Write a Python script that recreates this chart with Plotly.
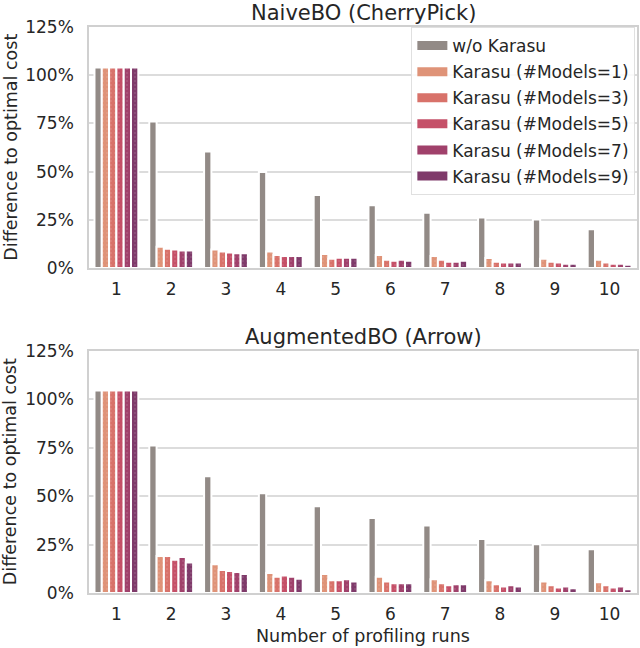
import plotly.graph_objects as go
from plotly.subplots import make_subplots

runs = ['1', '2', '3', '4', '5', '6', '7', '8', '9', '10']

series_names = ['w/o Karasu', 'Karasu (#Models=1)', 'Karasu (#Models=3)',
                'Karasu (#Models=5)', 'Karasu (#Models=7)', 'Karasu (#Models=9)']
colors = ['#928a86', '#df9378', '#d8726a', '#c55068', '#a0416b', '#7f3a6a']

# NaiveBO (CherryPick), difference to optimal cost in %
naive_wo = [104, 76, 60.4, 49.8, 37.9, 32.5, 28.6, 26.2, 25.1, 20.1]
naive_k1 = [104, 11.0, 9.6, 8.6, 7.2, 6.7, 6.2, 5.2, 4.8, 4.3]
naive_k3 = [104, 10.0, 8.6, 6.7, 4.8, 4.3, 4.3, 3.3, 3.3, 2.8]
naive_k5 = [104, 9.6, 8.1, 6.2, 5.3, 3.8, 3.3, 2.8, 2.8, 2.2]
naive_k7 = [104, 9.1, 7.6, 6.2, 5.3, 4.3, 3.3, 2.8, 2.2, 2.2]
naive_k9 = [104, 9.1, 7.6, 6.2, 5.3, 3.8, 3.8, 2.8, 2.2, 1.7]

# AugmentedBO (Arrow)
aug_wo = [104.6, 76.2, 60.3, 51.5, 44.8, 38.8, 34.8, 27.9, 25.2, 22.6]
aug_k1 = [104.6, 19.1, 14.8, 10.3, 9.8, 8.4, 7.1, 6.6, 6.0, 5.5]
aug_k3 = [104.6, 19.1, 11.9, 8.4, 6.6, 6.0, 5.0, 4.5, 4.0, 4.0]
aug_k5 = [104.6, 17.2, 11.4, 9.0, 6.6, 5.0, 4.0, 3.4, 2.9, 2.9]
aug_k7 = [104.6, 18.6, 10.9, 8.4, 7.1, 5.0, 4.5, 4.0, 3.4, 3.4]
aug_k9 = [104.6, 15.7, 9.8, 7.4, 6.0, 5.0, 4.5, 3.4, 2.4, 1.9]

y_ticks = [0, 25, 50, 75, 100, 125]
y_tick_labels = ['0%', '25%', '50%', '75%', '100%', '125%']

panels = [
    ('NaiveBO (CherryPick)', [naive_wo, naive_k1, naive_k3, naive_k5, naive_k7, naive_k9]),
    ('AugmentedBO (Arrow)', [aug_wo, aug_k1, aug_k3, aug_k5, aug_k7, aug_k9]),
]

FONT = 'DejaVu Sans'
TEXT = '#262626'
TOP_DOMAIN = [0.5742, 1]
BOTTOM_DOMAIN = [0, 0.4276]

fig = make_subplots(rows=2, cols=1)

for row, (title, values) in enumerate(panels, start=1):
    for i, vals in enumerate(values):
        pattern = dict(shape='') if i == 0 else dict(
            shape='.', fillmode='overlay', fgcolor='#ffffff', fgopacity=0.12, size=4, solidity=0.2)
        fig.add_trace(go.Bar(
            x=runs, y=vals,
            name=series_names[i],
            marker=dict(color=colors[i], line=dict(color='white', width=2), pattern=pattern),
            showlegend=False,
            hovertemplate='%{y:.1f}%<extra>' + series_names[i] + '</extra>',
        ), row=row, col=1)

# legend entries with wide swatches
for i, name in enumerate(series_names):
    fig.add_trace(go.Scatter(
        x=[None], y=[None], mode='lines', name=name,
        line=dict(color=colors[i], width=9),
        legendgroup=name, showlegend=True,
    ), row=1, col=1)

axis_common = dict(
    showline=True, mirror=True, linecolor='#d0d0d0', linewidth=1.5,
    ticks='', ticklen=0, automargin=False,
    tickfont=dict(family=FONT, size=17, color=TEXT),
)
x_common = dict(range=[-0.5, 9.5], ticklabelstandoff=5, **axis_common)
y_common = dict(range=[0, 125], tickvals=y_ticks, ticktext=y_tick_labels,
                showgrid=True, gridcolor='#dcdcdc', gridwidth=1.5,
                ticklabelstandoff=10, **axis_common)

title_font = dict(family=FONT, size=21, color=TEXT)
label_font = dict(family=FONT, size=17.5, color=TEXT)
y_title_x = -0.1439

fig.update_layout(
    width=640, height=648,
    template='simple_white',
    barmode='group', bargap=0.2, bargroupgap=0,
    paper_bgcolor='white', plot_bgcolor='white',
    margin=dict(l=89, r=3, t=27, b=55),
    font=dict(family=FONT, size=17, color=TEXT),
    xaxis=dict(domain=[0, 1], anchor='y', **x_common),
    yaxis=dict(domain=TOP_DOMAIN, anchor='x', **y_common),
    xaxis2=dict(domain=[0, 1], anchor='y2', **x_common),
    yaxis2=dict(domain=BOTTOM_DOMAIN, anchor='x2', **y_common),
    legend=dict(
        x=0.997, y=1.0, xanchor='right', yanchor='top',
        bgcolor='rgba(255,255,255,0.85)', bordercolor='#e0e0e0', borderwidth=1,
        font=dict(family=FONT, size=17, color=TEXT),
        tracegroupgap=1, itemwidth=30,
    ),
    annotations=[
        dict(text=panels[0][0], x=0.5, y=TOP_DOMAIN[1], xref='paper', yref='paper',
             xanchor='center', yanchor='bottom', yshift=0, showarrow=False, font=title_font),
        dict(text=panels[1][0], x=0.5, y=BOTTOM_DOMAIN[1], xref='paper', yref='paper',
             xanchor='center', yanchor='bottom', yshift=0, showarrow=False, font=title_font),
        dict(text='Difference to optimal cost', x=y_title_x, y=sum(TOP_DOMAIN) / 2,
             xref='paper', yref='paper', textangle=-90, xanchor='center', yanchor='middle',
             showarrow=False, font=label_font),
        dict(text='Difference to optimal cost', x=y_title_x, y=sum(BOTTOM_DOMAIN) / 2,
             xref='paper', yref='paper', textangle=-90, xanchor='center', yanchor='middle',
             showarrow=False, font=label_font),
        dict(text='Number of profiling runs', x=0.5, y=-0.076,
             xref='paper', yref='paper', xanchor='center', yanchor='middle',
             showarrow=False, font=label_font),
    ],
)

# drop the page's default body margin so the figure sits at the window's corner
fig.write_html('out.html', config={'displayModeBar': False},
               post_script="document.body.style.margin='0';")
